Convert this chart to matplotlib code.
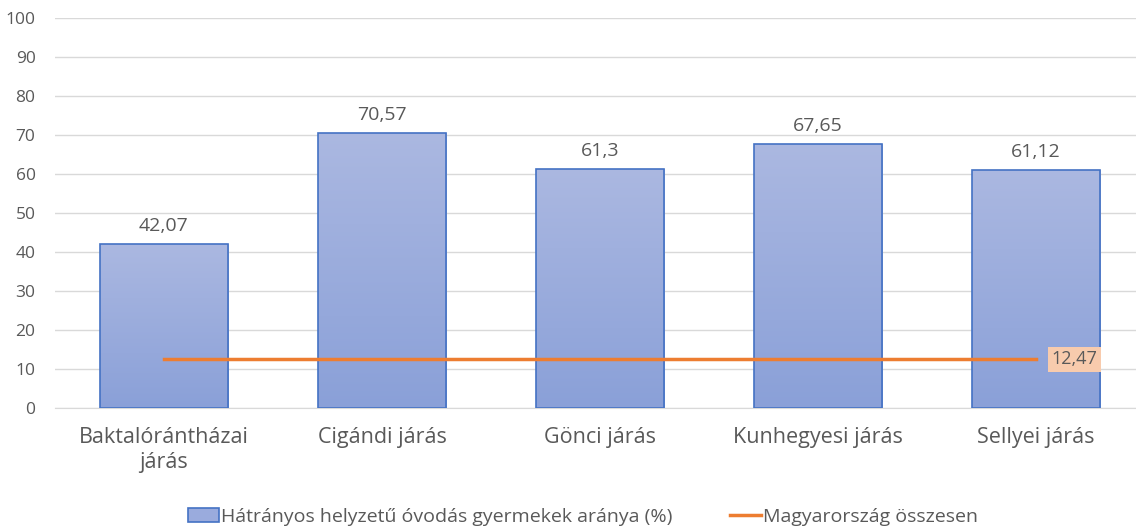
import numpy as np
import matplotlib.pyplot as plt
from matplotlib.patches import Patch
from matplotlib.lines import Line2D
from matplotlib.colors import LinearSegmentedColormap

categories = ['Baktalórántházai\njárás', 'Cigándi járás', 'Gönci járás', 'Kunhegyesi járás', 'Sellyei járás']
values = [42.07, 70.57, 61.3, 67.65, 61.12]
value_labels = ['42,07', '70,57', '61,3', '67,65', '61,12']
national = 12.47
national_label = '12,47'
bar_name = 'Hátrányos helyzetű óvodás gyermekek aránya (%)'
line_name = 'Magyarország összesen'

plt.rcParams['font.family'] = ['Open Sans', 'DejaVu Sans']
grey = '#595959'

fig = plt.figure(figsize=(11.36, 5.27), dpi=100)
ax = fig.add_axes([55 / 1136, 119 / 527, (1136 - 55) / 1136, 390 / 527])

x = np.arange(len(categories))
width = 0.59
cmap = LinearSegmentedColormap.from_list('g', ['#8aa0d8', '#abb8e1'])
grad = np.linspace(0, 1, 256).reshape(-1, 1)
bars = ax.bar(x, values, width, facecolor='none', edgecolor='#4472c4', linewidth=1.2, zorder=3)
for b in bars:
    im = ax.imshow(grad, cmap=cmap, origin='lower', aspect='auto',
                   extent=[b.get_x(), b.get_x() + b.get_width(), 0, b.get_height()], zorder=2)
    im.set_clip_path(b)

for xi, v, lab in zip(x, values, value_labels):
    ax.text(xi, v + 2.3, lab, ha='center', va='bottom', fontsize=14, color=grey)

ax.plot(x, [national] * len(x), color='#ed7d31', linewidth=2.5, zorder=4)
ax.text(x[-1] + 0.07, national, national_label, ha='left', va='center', fontsize=13, color=grey,
        bbox=dict(boxstyle='square,pad=0.2', facecolor='#f8cbad', edgecolor='none'), zorder=5)

ax.set_ylim(0, 100)
ax.set_xlim(-0.5, 4.459)
ax.set_yticks(np.arange(0, 101, 10))
ax.yaxis.grid(True, color='#d9d9d9', linewidth=1)
ax.set_axisbelow(True)
for s in ['top', 'right', 'left']:
    ax.spines[s].set_visible(False)
ax.spines['bottom'].set_color('#d9d9d9')
ax.tick_params(axis='y', length=0, labelsize=12.5, labelcolor=grey, pad=14)
ax.tick_params(axis='x', length=0, labelsize=15.5, labelcolor=grey, pad=14)
ax.set_xticks(x)
ax.set_xticklabels(categories, linespacing=1.25)

handles = [Patch(facecolor='#9aabdd', edgecolor='#4472c4', linewidth=1.2),
           Line2D([0], [0], color='#ed7d31', linewidth=2.5)]
fig.legend(handles, [bar_name, line_name], loc='center', bbox_to_anchor=(0.5 + 15 / 1136, 1 - 517 / 527),
           ncol=2, frameon=False, fontsize=14, labelcolor=grey, columnspacing=3.0,
           handlelength=1.6, handletextpad=0.1)

fig.savefig('out.png', dpi=100)
